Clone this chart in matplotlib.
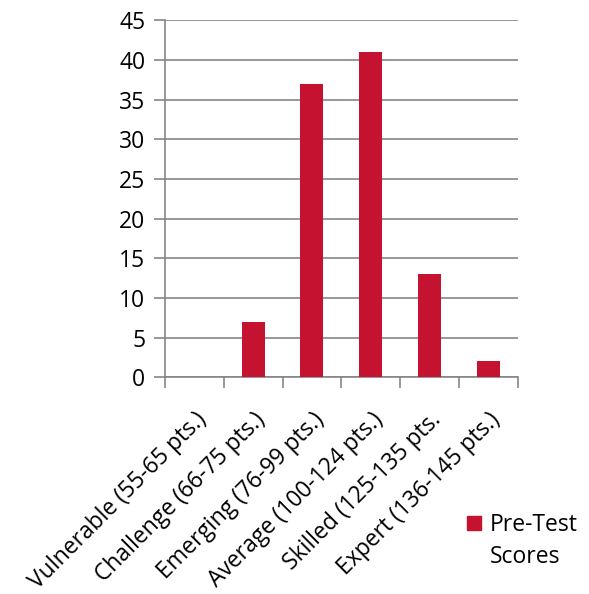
import matplotlib
matplotlib.use("Agg")
import matplotlib.pyplot as plt
from matplotlib.patches import Patch

categories = ["Vulnerable (55-65 pts.)", "Challenge (66-75 pts.)", "Emerging (76-99 pts.)",
              "Average (100-124 pts.)", "Skilled (125-135 pts.", "Expert (136-145 pts.)"]
pre_test = [0, 7, 37, 41, 13, 2]
y_ticks = [0, 5, 10, 15, 20, 25, 30, 35, 40, 45]

plt.rcParams['font.family'] = ['Open Sans', 'DejaVu Sans']
barColor = '#C41230'
gridColor = '#868686'

fig = plt.figure(figsize=(5.89, 5.94), dpi=100)
ax = fig.add_axes([0.280, 0.365, 0.599, 0.601])

x = list(range(len(categories)))
ax.bar(x, pre_test, width=0.39, color=barColor, zorder=3)

ax.set_xlim(-0.5, len(categories) - 0.5)
ax.set_ylim(0, 45)
ax.set_yticks(y_ticks)
ax.yaxis.grid(True, color=gridColor, linewidth=1.2, zorder=0)

# boundaries between categories get the tick marks
ax.set_xticks([i - 0.5 for i in range(len(categories) + 1)])
ax.set_xticklabels([])
ax.set_xticks(x, minor=True)
ax.set_xticklabels(categories, minor=True, rotation=45, ha='right',
                   rotation_mode='anchor', fontsize=16.5)
ax.tick_params(axis='x', which='minor', length=0, pad=22)
ax.tick_params(axis='x', which='major', length=8, color=gridColor, width=1.2)
ax.tick_params(axis='y', length=8, color=gridColor, width=1.2, labelsize=16.5, pad=6)

for s in ['top', 'right']:
    ax.spines[s].set_visible(False)
for s in ['left', 'bottom']:
    ax.spines[s].set_color(gridColor)
    ax.spines[s].set_linewidth(1.2)

# legend label wraps onto a second line, marker stays beside the first one
leg = fig.legend(handles=[Patch(color=barColor, label='Pre-Test')],
                 loc='center left', bbox_to_anchor=(0.777, 1 - 525 / 594), frameon=False,
                 fontsize=16.5, handlelength=0.6, handleheight=0.6, handletextpad=0.4,
                 borderaxespad=0)
fig.canvas.draw()
bb = leg.get_texts()[0].get_window_extent().transformed(fig.transFigure.inverted())
fig.text(bb.x0, 1 - 557 / 594, 'Scores', fontsize=16.5, va='center', ha='left')

fig.savefig('out.png', dpi=100)
